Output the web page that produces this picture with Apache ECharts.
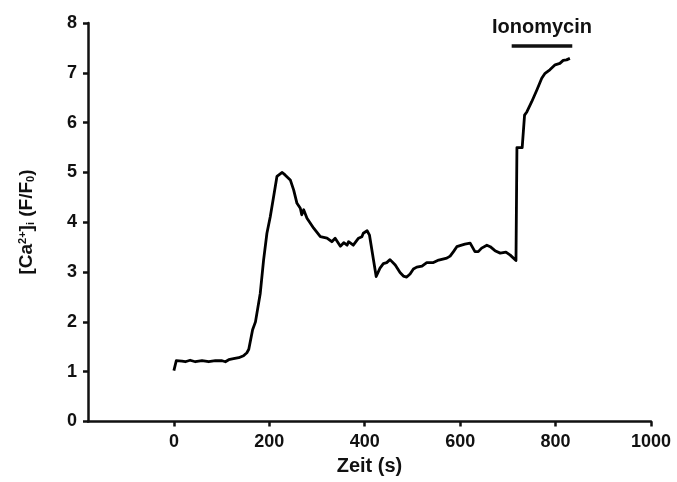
<!DOCTYPE html>
<html>
<head>
<meta charset="utf-8">
<script src="https://cdn.jsdelivr.net/npm/echarts@6/dist/echarts.min.js"></script>
<style>
  html, body { margin: 0; padding: 0; background: #fff; }
  #chart { width: 677px; height: 482px; }
</style>
</head>
<body>
<div id="chart"></div>
<script>
// Time points (s) of the calcium trace
var timeSec = [0, 5, 17, 24, 34, 45, 59, 73, 87, 101, 108, 115, 125, 136, 146, 153, 157,
  165, 171, 181, 188, 195, 202, 209, 216, 227, 233, 244, 251, 258, 265, 268, 272, 279,
  293, 307, 321, 331, 338, 349, 356, 363, 366, 376, 387, 394, 397, 405, 410, 424, 432,
  439, 446, 453, 464, 474, 481, 488, 495, 502, 509, 520, 530, 544, 555, 558, 572, 579,
  586, 593, 603, 610, 621, 631, 638, 645, 656, 663, 673, 684, 696, 705, 717, 719, 730,
  735, 740, 750, 761, 771, 778, 788, 799, 809, 816, 823, 830];

// Normalised fluorescence F/F0
var ratio = [1.02, 1.22, 1.21, 1.20, 1.23, 1.20, 1.22, 1.20, 1.22, 1.22, 1.20, 1.24,
  1.26, 1.28, 1.32, 1.38, 1.45, 1.84, 2.00, 2.57, 3.24, 3.78, 4.11, 4.51, 4.92, 5.00,
  4.95, 4.85, 4.65, 4.38, 4.28, 4.15, 4.25, 4.08, 3.88, 3.71, 3.68, 3.61, 3.68, 3.52,
  3.59, 3.54, 3.61, 3.54, 3.68, 3.71, 3.78, 3.83, 3.74, 2.91, 3.08, 3.17, 3.19, 3.25,
  3.14, 2.99, 2.92, 2.90, 2.96, 3.06, 3.10, 3.12, 3.19, 3.19, 3.24, 3.28, 3.28, 3.32,
  3.41, 3.51, 3.54, 3.56, 3.58, 3.41, 3.41, 3.48, 3.54, 3.51, 3.43, 3.38, 3.40, 3.34,
  3.23, 5.50, 5.50, 6.15, 6.22, 6.42, 6.66, 6.89, 6.99, 7.06, 7.16, 7.19, 7.25, 7.26, 7.29];

// Ionomycin application period
var ionoStart = 708;
var ionoEnd = 835;
var ionoLevel = 7.54;
var ionoLabel = 'Ionomycin';

var xTicks = [0, 200, 400, 600, 800, 1000];
var yTicks = [0, 1, 2, 3, 4, 5, 6, 7, 8];

var ink = '#111111';
var font = '"Liberation Sans", Arial, sans-serif';

var trace = timeSec.map(function (t, i) { return [t, ratio[i]]; });

var chart = echarts.init(document.getElementById('chart'), null, { renderer: 'canvas' });

chart.setOption({
  animation: false,
  backgroundColor: '#fff',
  grid: { left: 88, right: 26, top: 23, bottom: 60.5, containLabel: false },
  xAxis: {
    type: 'value',
    min: -180,
    max: 1000,
    interval: 200,
    name: 'Zeit (s)',
    nameLocation: 'middle',
    nameGap: 35,
    nameTextStyle: { color: ink, fontFamily: font, fontWeight: 'bold', fontSize: 20 },
    axisLine: { show: true, onZero: false, lineStyle: { color: ink, width: 2.5 } },
    axisTick: {
      show: true, inside: false, length: 5, lineStyle: { color: ink, width: 2.5 },
      customValues: xTicks
    },
    axisLabel: {
      color: ink, fontFamily: font, fontWeight: 'bold', fontSize: 18, margin: 12,
      customValues: xTicks,
      formatter: function (v) { return xTicks.indexOf(v) >= 0 ? String(v) : ''; }
    },
    splitLine: { show: false }
  },
  yAxis: {
    type: 'value',
    min: 0,
    max: 8,
    interval: 1,
    axisLine: { show: true, onZero: false, lineStyle: { color: ink, width: 2.5 } },
    axisTick: { show: true, inside: false, length: 5, lineStyle: { color: ink, width: 2.5 } },
    axisLabel: {
      color: ink, fontFamily: font, fontWeight: 'bold', fontSize: 18, margin: 11,
      formatter: function (v) { return yTicks.indexOf(v) >= 0 ? String(v) : ''; }
    },
    splitLine: { show: false }
  },
  graphic: [{
    type: 'text',
    x: 27,
    y: 222,
    rotation: Math.PI / 2,
    style: {
      text: '{b|[Ca}{sup|2+}{b|]}{sub|i}{b| (F/F}{sub|0}{b|)}',
      align: 'center',
      verticalAlign: 'middle',
      rich: {
        b: { fontFamily: font, fontWeight: 'bold', fontSize: 19, fill: ink },
        sup: { fontFamily: font, fontWeight: 'bold', fontSize: 11, fill: ink, verticalAlign: 'top' },
        sub: { fontFamily: font, fontWeight: 'bold', fontSize: 11, fill: ink, verticalAlign: 'bottom' }
      }
    }
  }],
  series: [
    {
      type: 'line',
      data: trace,
      showSymbol: false,
      symbol: 'none',
      lineStyle: { color: '#000', width: 2.8, join: 'round' },
      z: 3
    },
    {
      type: 'line',
      data: [[ionoStart, ionoLevel], [ionoEnd, ionoLevel]],
      showSymbol: false,
      symbol: 'none',
      lineStyle: { color: ink, width: 3.5, cap: 'butt' },
      z: 3
    },
    {
      type: 'scatter',
      data: [[(ionoStart + ionoEnd) / 2, 7.9]],
      symbolSize: 0,
      itemStyle: { opacity: 1 },
      label: {
        show: true,
        position: 'inside',
        formatter: ionoLabel,
        color: ink,
        opacity: 1,
        fontFamily: font,
        fontWeight: 'bold',
        fontSize: 20
      },
      z: 4
    }
  ]
});
</script>
</body>
</html>
